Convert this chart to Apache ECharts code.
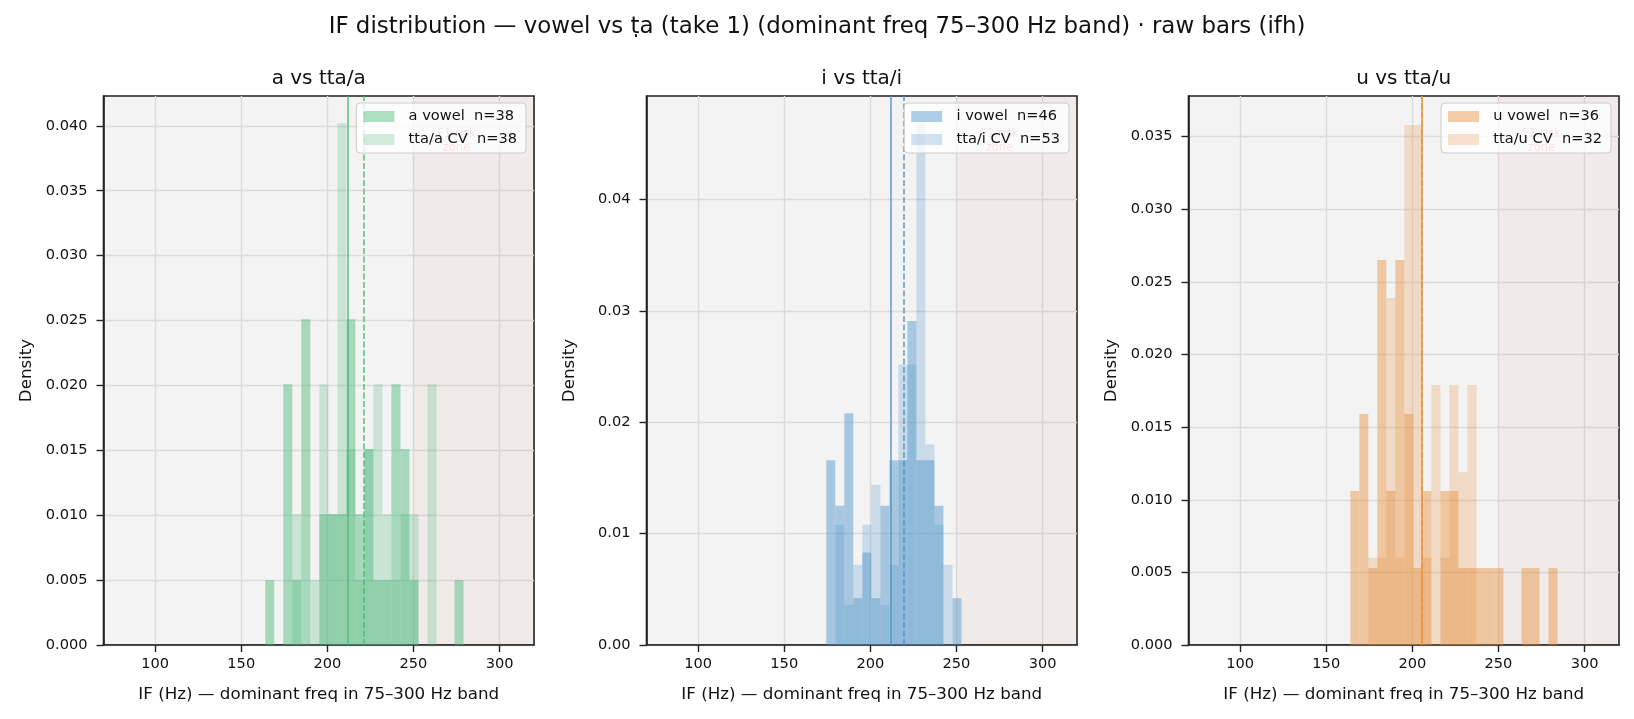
<!DOCTYPE html>
<html>
<head>
<meta charset="utf-8">
<title>IF distribution — vowel vs ṭa</title>
<script src="https://cdn.jsdelivr.net/npm/echarts@6.0.0/dist/echarts.min.js"></script>
<style>
  html, body { margin: 0; padding: 0; background: #ffffff; }
  #chart { width: 1634px; height: 719px; }
</style>
</head>
<body>
<div id="chart"></div>
<script>
// bin edges (Hz) shared by every histogram: bins 17..39 of linspace(75, 300, 44)
var binEdges = [163.95, 169.19, 174.42, 179.65, 184.88, 190.12, 195.35, 200.58,
  205.81, 211.05, 216.28, 221.51, 226.74, 231.98, 237.21, 242.44, 247.67,
  252.91, 258.14, 263.37, 268.60, 273.84, 279.07, 284.30];

// density per bin
var aVowel = [0.0050, 0, 0.0201, 0.0050, 0.0251, 0, 0.0101, 0.0101, 0.0101, 0.0251, 0.0101, 0.0151,
  0.0050, 0.0050, 0.0201, 0.0151, 0.0050, 0, 0, 0, 0, 0.0050, 0];
var ttaA = [0, 0, 0, 0.0101, 0, 0.0050, 0.0201, 0.0101, 0.0402, 0.0151, 0.0050, 0.0151,
  0.0201, 0.0101, 0.0050, 0.0101, 0.0101, 0, 0.0201, 0, 0, 0, 0];
var iVowel = [0, 0, 0.0166, 0.0125, 0.0208, 0.0042, 0.0083, 0.0042, 0.0125, 0.0166, 0.0166, 0.0291,
  0.0166, 0.0166, 0.0125, 0, 0.0042, 0, 0, 0, 0, 0, 0];
var ttaI = [0, 0, 0, 0.0108, 0.0036, 0.0072, 0.0108, 0.0144, 0.0036, 0.0072, 0.0252, 0.0252,
  0.0469, 0.0180, 0.0108, 0.0072, 0, 0, 0, 0, 0, 0, 0];
var uVowel = [0.0106, 0.0159, 0.0053, 0.0265, 0.0106, 0.0265, 0.0159, 0.0053, 0.0106, 0, 0.0106, 0.0106,
  0.0053, 0.0053, 0.0053, 0.0053, 0.0053, 0, 0, 0.0053, 0.0053, 0, 0.0053];
var ttaU = [0, 0, 0.0060, 0.0060, 0.0239, 0.0060, 0.0358, 0.0358, 0.0060, 0.0179, 0.0060, 0.0179,
  0.0119, 0.0179, 0, 0, 0, 0, 0, 0, 0, 0, 0];

// mean lines (Hz): vowel, CV
var meansA = [212.0, 221.0];
var meansI = [211.8, 219.3];
var meansU = [205.3, 205.7];

// axes
var xRange = [70, 320];
var xTicks = [100, 150, 200, 250, 300];
var yMax = [0.0423, 0.0493, 0.0378];
var yTicksA = [0, 0.005, 0.010, 0.015, 0.020, 0.025, 0.030, 0.035, 0.040];
var yTicksI = [0, 0.01, 0.02, 0.03, 0.04];
var yTicksU = [0, 0.005, 0.010, 0.015, 0.020, 0.025, 0.030, 0.035];
var riskZone = [250, 320];
var riskLabelX = 275;

var FONT = '"DejaVu Sans", sans-serif';
var INK = '#111111';

var panels = [
  { title: 'a vs tta/a', vowel: 'a vowel  n=38', cv: 'tta/a CV  n=38', vDens: aVowel, cDens: ttaA,
    means: meansA, rgb: '74,183,119', yTicks: yTicksA, dec: 3, left: 103.5 },
  { title: 'i vs tta/i', vowel: 'i vowel  n=46', cv: 'tta/i CV  n=53', vDens: iVowel, cDens: ttaI,
    means: meansI, rgb: '76,147,201', yTicks: yTicksI, dec: 2, left: 646.5 },
  { title: 'u vs tta/u', vowel: 'u vowel  n=36', cv: 'tta/u CV  n=32', vDens: uVowel, cDens: ttaU,
    means: meansU, rgb: '232,144,60', yTicks: yTicksU, dec: 3, left: 1188.5 }
];
var GRID_W = 430.5, GRID_TOP = 96, GRID_H = 549;

function histData(dens) {
  var out = [];
  dens.forEach(function (d, i) {
    if (d > 0) out.push([binEdges[i], binEdges[i + 1], d]);
  });
  return out;
}

function renderBar(params, api) {
  var p0 = api.coord([api.value(0), api.value(2)]);
  var p1 = api.coord([api.value(1), 0]);
  return {
    type: 'rect',
    shape: { x: p0[0], y: p0[1], width: p1[0] - p0[0], height: p1[1] - p0[1] },
    style: { fill: api.visual('color') }
  };
}

var chart = echarts.init(document.getElementById('chart'));

var titles = [{
  text: 'IF distribution — vowel vs ṭa (take 1) (dominant freq 75–300 Hz band) · raw bars (ifh)',
  left: 'center', top: 16, padding: 0,
  textStyle: { fontFamily: FONT, fontSize: 22.9, fontWeight: 'normal', color: INK }
}];
var grids = [], xAxes = [], yAxes = [], legends = [], series = [];

panels.forEach(function (p, i) {
  titles.push({
    text: p.title, left: p.left + GRID_W / 2, textAlign: 'center', top: 69, padding: 0,
    textStyle: { fontFamily: FONT, fontSize: 20, fontWeight: 'normal', color: INK }
  });
  grids.push({
    left: p.left, top: GRID_TOP, width: GRID_W, height: GRID_H,
    show: true, backgroundColor: '#f3f3f3', borderColor: '#222222', borderWidth: 1.6
  });
  xAxes.push({
    type: 'value', gridIndex: i, min: xRange[0], max: xRange[1],
    name: 'IF (Hz) — dominant freq in 75–300 Hz band', nameLocation: 'middle', nameGap: 41,
    nameTextStyle: { fontFamily: FONT, fontSize: 16.7, color: INK },
    axisLine: { show: true, lineStyle: { color: '#222222', width: 1.6 } },
    axisTick: { show: true, length: 7, customValues: xTicks, lineStyle: { color: '#222222', width: 1.4 } },
    axisLabel: { customValues: xTicks, margin: 12, fontFamily: FONT, fontSize: 14.6, color: INK },
    splitLine: { show: true, lineStyle: { color: '#dcdcdc', width: 1.4 } }
  });
  yAxes.push({
    type: 'value', gridIndex: i, min: 0, max: yMax[i],
    name: 'Density', nameLocation: 'middle', nameGap: 68,
    nameTextStyle: { fontFamily: FONT, fontSize: 16.7, color: INK },
    axisLine: { show: true, lineStyle: { color: '#222222', width: 1.6 } },
    axisTick: { show: true, length: 7, customValues: p.yTicks, lineStyle: { color: '#222222', width: 1.4 } },
    axisLabel: {
      customValues: p.yTicks, margin: 16, fontFamily: FONT, fontSize: 14.6, color: INK,
      formatter: (function (dec) { return function (v) { return v.toFixed(dec); }; })(p.dec)
    },
    splitLine: { show: true, lineStyle: { color: '#dcdcdc', width: 1.4 } }
  });
  legends.push({
    data: [p.vowel, p.cv], orient: 'vertical', top: 103, right: 1634 - (p.left + GRID_W) + 8,
    icon: 'rect', itemWidth: 31, itemHeight: 11, itemGap: 8, padding: [6, 9, 6, 7],
    backgroundColor: 'rgba(255,255,255,0.8)', borderColor: '#cccccc', borderWidth: 1, borderRadius: 4,
    selectedMode: false, z: 10,
    formatter: function (name) { return '  ' + name; },
    textStyle: { fontFamily: FONT, fontSize: 14.6, color: INK }
  });
  var lineColor = 'rgba(' + p.rgb + ',0.9)';
  series.push({
    type: 'custom', name: p.vowel, xAxisIndex: i, yAxisIndex: i,
    renderItem: renderBar, encode: { x: [0, 1], y: 2 },
    data: histData(p.vDens),
    itemStyle: { color: 'rgba(' + p.rgb + ',0.45)' },
    markArea: {
      silent: true,
      itemStyle: { color: 'rgba(200,100,60,0.05)' },
      data: [[{ xAxis: riskZone[0] }, { xAxis: riskZone[1] }]]
    },
    markPoint: {
      silent: true, z: 3,
      data: [{
        coord: [riskLabelX, yMax[i] * 0.918], symbol: 'rect', symbolSize: 1,
        itemStyle: { color: 'rgba(0,0,0,0)' },
        label: {
          show: true, position: 'inside', align: 'center', verticalAlign: 'middle',
          formatter: 'F1 risk\nzone',
          fontFamily: FONT, fontSize: 11.5, lineHeight: 14, color: 'rgba(220,60,60,0.75)'
        }
      }]
    }
  });
  series.push({
    type: 'custom', name: p.cv, xAxisIndex: i, yAxisIndex: i,
    renderItem: renderBar, encode: { x: [0, 1], y: 2 },
    data: histData(p.cDens),
    itemStyle: { color: 'rgba(' + p.rgb + ',0.25)' },
    markLine: {
      silent: true, symbol: 'none', label: { show: false },
      lineStyle: { color: lineColor, width: 1.5 },
      data: [
        { xAxis: p.means[0], lineStyle: { type: 'solid', color: lineColor, width: 1.5 } },
        { xAxis: p.means[1], lineStyle: { type: [6, 2.5], color: lineColor, width: 1.5 } }
      ]
    }
  });
});

chart.setOption({
  animation: false,
  backgroundColor: '#ffffff',
  title: titles,
  grid: grids,
  xAxis: xAxes,
  yAxis: yAxes,
  legend: legends,
  series: series
});
</script>
</body>
</html>
